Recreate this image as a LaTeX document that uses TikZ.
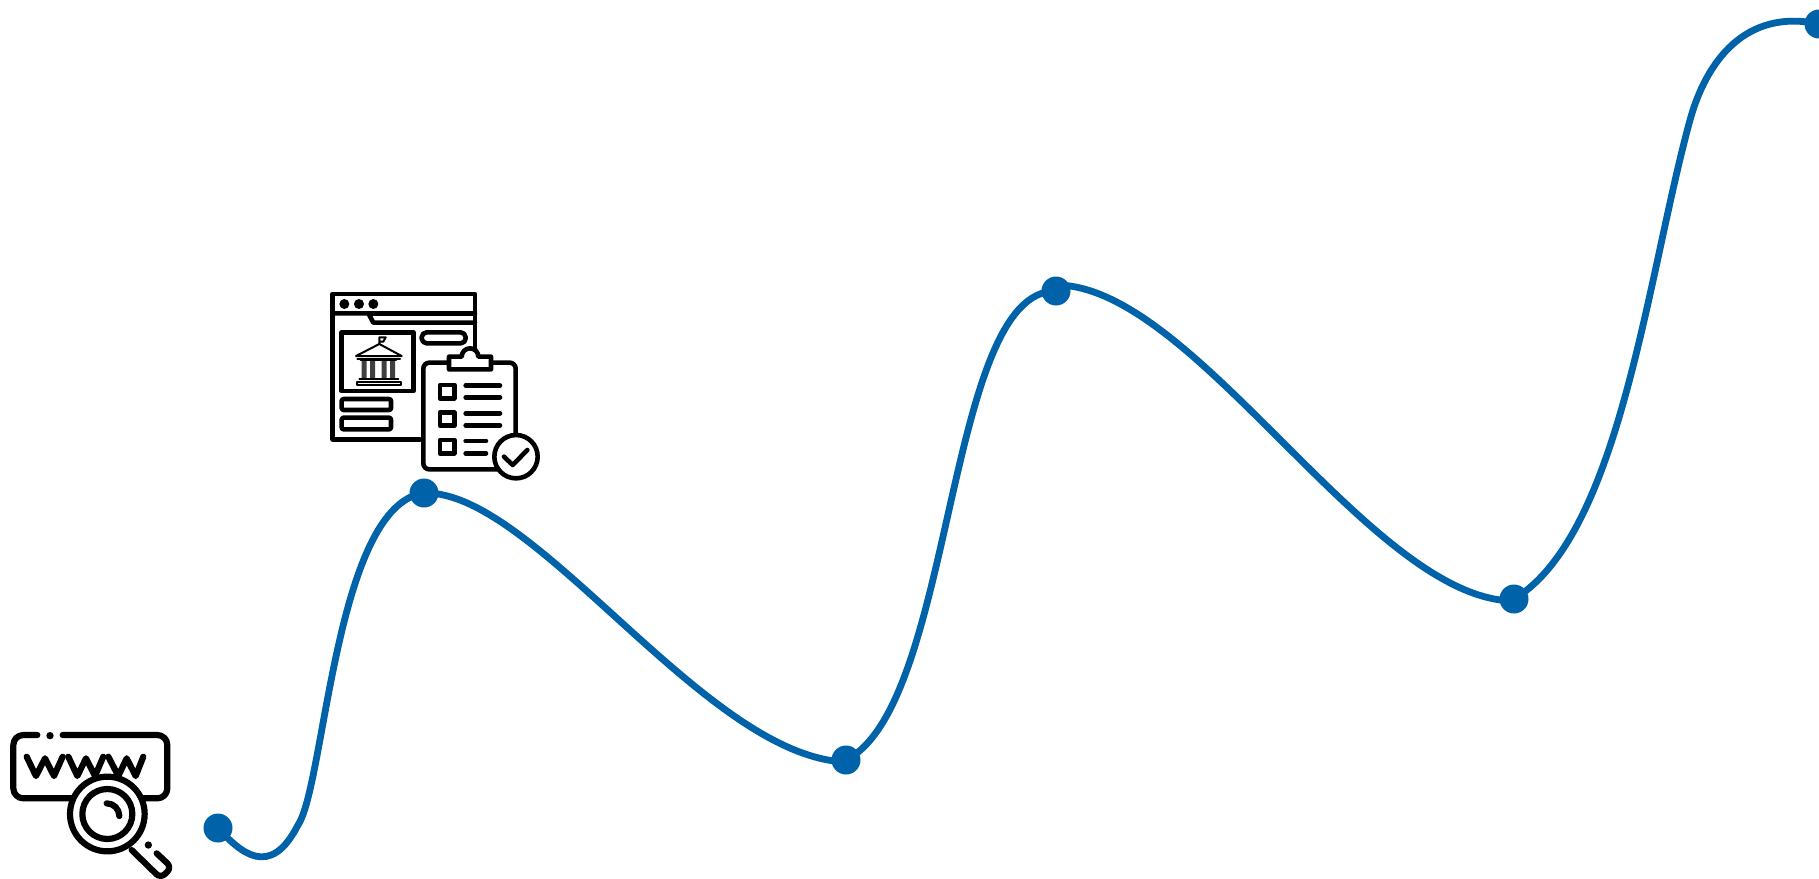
\documentclass[tikz,border=0pt]{standalone}
\definecolor{routeblue}{HTML}{0063A9}
\tikzset{
  stopdot/.style={circle,fill=routeblue,inner sep=0pt,minimum size=14.5pt},
  routeline/.style={routeblue,line width=3.4pt,line cap=round},
  iconline/.style={black,line width=3.1pt,line cap=round,line join=round},
  iconthick/.style={black,line width=2.3pt,line cap=round,line join=round},
  iconthin/.style={black,line width=1pt,line cap=round,line join=round},
}
\begin{document}
\begin{tikzpicture}[x=0.5pt,y=-0.5pt]
\useasboundingbox (0,0) rectangle (1819,878);
\begin{scope}[shift={(0,710)},x=0.16667pt,y=-0.16667pt]
\draw[iconline,rounded corners=5pt] (112,75) -- (40,75) -- (40,265) -- (240,265);
\draw[iconline,rounded corners=5pt] (188,75) -- (502,75) -- (502,265) -- (425,265);
\fill (150,77) circle (11);
\draw[iconline] (80,140) -- (108,198) -- (135,145) -- (162,198) -- (188,140);
\draw[iconline] (205,140) -- (232,198) -- (258,145) -- (285,198) -- (310,140);
\draw[iconline] (325,140) -- (355,198) -- (380,145) -- (407,198) -- (430,140);
\draw[iconline,fill=white] (322,312) circle (112);
\draw[iconline] (322,312) circle (75);
\draw[iconline] (320,280) arc[start angle=-90,end angle=0,radius=38];
\draw[iconline,rounded corners=3pt] (395,420) -- (482,505) -- (515,472) -- (470,430);
\fill (445,405) circle (11);
\end{scope}
\begin{scope}[shift={(320,280)},x=0.16667pt,y=-0.16667pt]
\draw[iconthick] (465,205) -- (465,42) -- (38,42) -- (38,478) -- (300,478);
\draw[iconthick] (38,100) -- (145,100) -- (160,128) -- (465,128);
\draw[iconthick] (145,100) -- (465,100);
\fill (73,72) circle (15) (117,72) circle (15) (160,72) circle (15);
\draw[iconthick] (65,157) rectangle (280,333);
\draw[iconthick,rounded corners=2.5pt] (305,157) rectangle (437,190);
\draw[iconthick,rounded corners=1pt] (65,357) rectangle (213,390);
\draw[iconthick,rounded corners=1pt] (65,413) rectangle (213,448);
\draw[iconthin] (108,228) -- (178,192) -- (245,228) -- cycle;
\draw[iconthin] (178,192) -- (178,172) -- (197,172) -- (190,185) -- (178,185);
\draw[iconthin] (112,236) -- (240,236);
\fill[black!75] (125,240) rectangle (140,295) (150,240) rectangle (165,295) (185,240) rectangle (200,295) (210,240) rectangle (225,295);
\draw[iconthin] (122,240) -- (228,240) (118,298) -- (235,298);
\draw[iconthin] (110,305) rectangle (243,316);
\draw[iconthick,fill=white,rounded corners=3pt] (310,248) rectangle (587,568);
\draw[iconthick,fill=white] (387,268) -- (387,230) -- (425,230) arc[start angle=180,end angle=360,radius=25] -- (513,230) -- (513,268) -- cycle;
\draw[iconthick] (360,315) rectangle (403,355);
\draw[iconthick] (360,397) rectangle (403,437);
\draw[iconthick] (360,480) rectangle (403,520);
\draw[iconthick] (437,317) -- (540,317) (437,352) -- (540,352);
\draw[iconthick] (437,400) -- (540,400) (437,436) -- (540,436);
\draw[iconthick] (437,483) -- (498,483) (437,520) -- (498,520);
\draw[iconthick,fill=white] (588,530) circle (65);
\draw[iconthick] (552,530) -- (578,555) -- (622,510);
\end{scope}
\node[stopdot] (stopa) at (218,828) {};
\node[stopdot] (stopb) at (424,493) {};
\node[stopdot] (stopc) at (846,760) {};
\node[stopdot] (stopd) at (1056,291) {};
\node[stopdot] (stope) at (1514,599) {};
\node[stopdot] (stopf) at (1819,24) {};
\draw[routeline] (stopa.center) .. controls (240,852) and (270,880) .. (298,825)
  .. controls (325,785) and (335,505) .. (stopb.center);
\draw[routeline] (stopb.center) .. controls (535,490) and (705,757) .. (846,762);
\draw[routeline] (stopc.center) .. controls (955,705) and (945,290) .. (stopd.center);
\draw[routeline] (1056,285) .. controls (1195,285) and (1370,600) .. (1514,601);
\draw[routeline] (stope.center) .. controls (1620,535) and (1647,277) .. (1690,120)
  .. controls (1706,62) and (1745,8) .. (stopf.center);
\end{tikzpicture}
\end{document}
